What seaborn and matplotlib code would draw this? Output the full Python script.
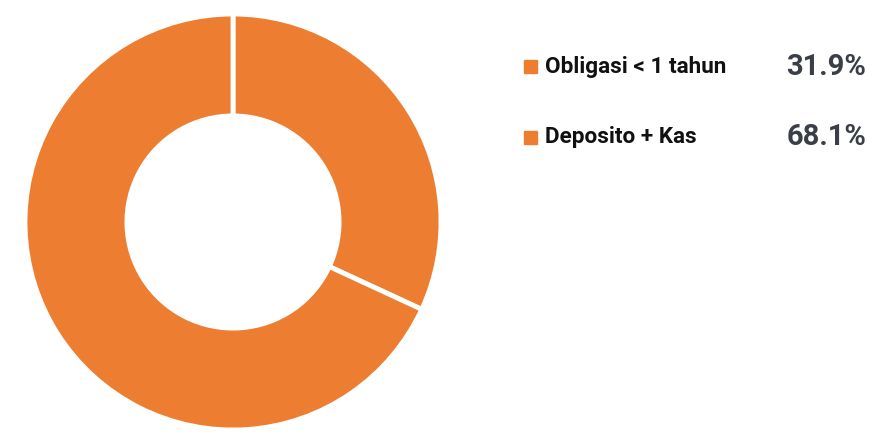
"""
Donut chart of portfolio allocation with a text legend on the right.
"""

import matplotlib
matplotlib.use("Agg")
import matplotlib.pyplot as plt
import seaborn as sns

# Data
labels = ['Obligasi < 1 tahun', 'Deposito + Kas']
shares = [31.9, 68.1]
colors = ['#ED7D31', '#ED7D31']

sns.set_theme(style='white')
plt.rcParams['font.family'] = ['Roboto', 'DejaVu Sans']

fig = plt.figure(figsize=(8.77, 4.36), dpi=100)

# donut
W, H = 877, 436
ax = fig.add_axes([25 / W, (H - 430) / H, 416 / W, 416 / H])
ax.pie(shares, colors=colors, startangle=90, counterclock=False,
       wedgeprops=dict(width=0.49, edgecolor='white', linewidth=3.5))
ax.set_xlim(-1, 1)
ax.set_ylim(-1, 1)
ax.set_aspect('equal')
ax.axis('off')

# legend drawn as text
ys = [67, 137]
for lab, val, col, y in zip(labels, shares, colors, ys):
    fy = 1 - y / H
    fig.patches.append(plt.Rectangle((524 / W, fy - 6.5 / H), 13 / W, 13 / H,
                                     transform=fig.transFigure, color=col))
    fig.text(545 / W, fy, lab, ha='left', va='center', fontsize=16.2,
             fontweight='bold', color='#111111')
    fig.text(866 / W, fy, f'{val:.1f}%', ha='right', va='center', fontsize=21,
             fontweight='bold', color='#3a3f47')

fig.savefig('out.png', dpi=100)
